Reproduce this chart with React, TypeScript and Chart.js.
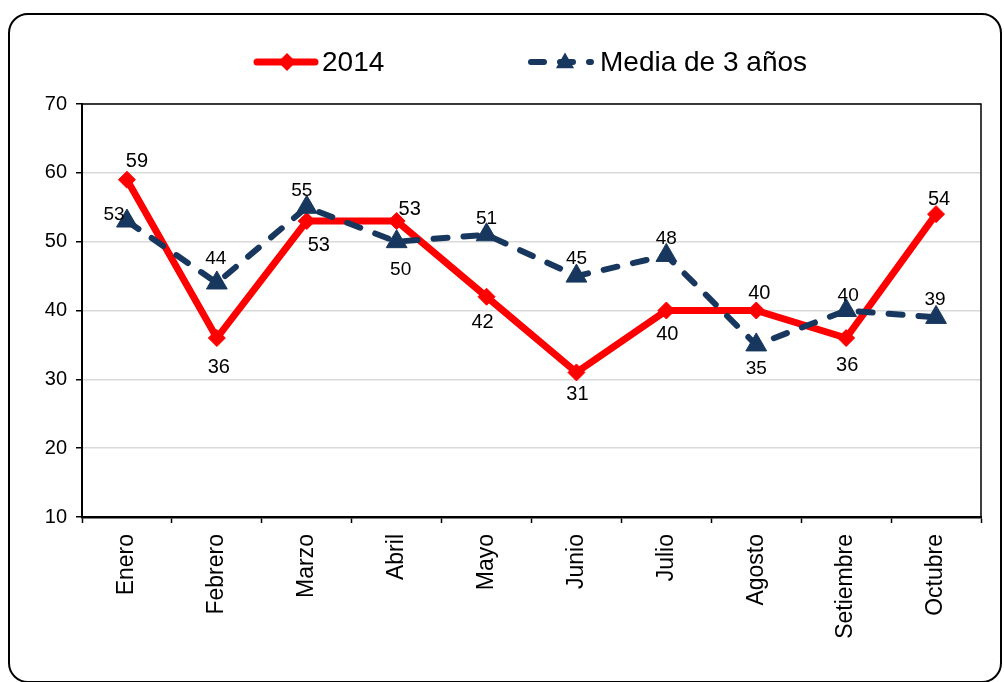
import React, { useEffect, useRef } from 'react';
import { Chart, registerables } from 'chart.js';

Chart.register(...registerables);

const categories = ['Enero', 'Febrero', 'Marzo', 'Abril', 'Mayo', 'Junio', 'Julio', 'Agosto', 'Setiembre', 'Octubre'];
const series2014 = [59, 36, 53, 53, 42, 31, 40, 40, 36, 54];
const seriesMedia = [53, 44, 55, 50, 51, 45, 48, 35, 40, 39];
const yTicks = [10, 20, 30, 40, 50, 60, 70];
const seriesNames = ['2014', 'Media de 3 años'];

const RED = '#FF0000';
const NAVY = '#17375E';
const FONT = '"Liberation Sans", Arial, Helvetica, sans-serif';

// label offsets (style) relative to each point
const labelOffsets2014 = [[10, -18], [2, 29], [12, 24], [13, -12], [-4, 26], [1, 22], [1, 24], [3, -17], [1, 27], [3, -15]];
const labelOffsetsMedia = [[-13, -6], [-1, -24], [-5, -16], [4, 28], [0, -16], [0, -17], [0, -17], [0, 24], [2, -15], [-1, -18]];

const dataLabelPlugin = {
  id: 'dataLabels',
  afterDatasetsDraw(chart: any) {
    const ctx = chart.ctx;
    chart.data.datasets.forEach((ds: any, i: number) => {
      const meta = chart.getDatasetMeta(i);
      const offs = ds.labelOffsets;
      ctx.save();
      ctx.font = `${ds.labelSize}px ${FONT}`;
      ctx.fillStyle = '#000';
      ctx.textAlign = 'center';
      ctx.textBaseline = 'middle';
      meta.data.forEach((el: any, j: number) => {
        ctx.fillText(String(ds.data[j]), el.x + offs[j][0], el.y + offs[j][1]);
      });
      ctx.restore();
    });
  },
};

const framePlugin = {
  id: 'frame',
  beforeDatasetsDraw(chart: any) {
    const { ctx, chartArea } = chart;
    ctx.save();
    ctx.strokeStyle = '#000';
    ctx.lineWidth = 1.5;
    ctx.beginPath();
    ctx.moveTo(chartArea.left, chartArea.top);
    ctx.lineTo(chartArea.right, chartArea.top);
    ctx.lineTo(chartArea.right, chartArea.bottom);
    ctx.stroke();
    ctx.restore();
  },
};

const legendPlugin = {
  id: 'customLegend',
  afterDraw(chart: any) {
    const ctx = chart.ctx;
    const y = 62;
    ctx.save();
    // 2014
    ctx.strokeStyle = RED;
    ctx.lineWidth = 7;
    ctx.lineCap = 'round';
    ctx.beginPath();
    ctx.moveTo(257, y);
    ctx.lineTo(315, y);
    ctx.stroke();
    ctx.fillStyle = RED;
    ctx.beginPath();
    ctx.moveTo(287, y - 9);
    ctx.lineTo(296, y);
    ctx.lineTo(287, y + 9);
    ctx.lineTo(278, y);
    ctx.closePath();
    ctx.fill();
    ctx.fillStyle = '#000';
    ctx.font = `28px ${FONT}`;
    ctx.textAlign = 'left';
    ctx.textBaseline = 'middle';
    ctx.fillText(seriesNames[0], 322, y + 1);
    // Media
    ctx.strokeStyle = NAVY;
    ctx.lineWidth = 6;
    ctx.setLineDash([13, 16]);
    ctx.beginPath();
    ctx.moveTo(531, y);
    ctx.lineTo(591, y);
    ctx.stroke();
    ctx.setLineDash([]);
    ctx.fillStyle = NAVY;
    const cx = 565, cy = 63, r = 10.5;
    ctx.beginPath();
    ctx.moveTo(cx, cy - r);
    ctx.lineTo(cx + r * 0.866, cy + r / 2);
    ctx.lineTo(cx - r * 0.866, cy + r / 2);
    ctx.closePath();
    ctx.fill();
    ctx.fillStyle = '#000';
    ctx.fillText(seriesNames[1], 600, y + 1);
    ctx.restore();
  },
};

export default function App() {
  const ref = useRef<HTMLCanvasElement>(null);
  useEffect(() => {
    if (!ref.current) return;
    const chart = new Chart(ref.current, {
      type: 'line',
      data: {
        labels: categories,
        datasets: [
          {
            label: seriesNames[0],
            data: series2014,
            borderColor: RED,
            backgroundColor: RED,
            borderWidth: 7,
            pointStyle: 'rectRot',
            pointRadius: 8.5,
            pointBorderWidth: 1,
            pointBackgroundColor: RED,
            pointBorderColor: RED,
            tension: 0,
            order: 1,
            labelOffsets: labelOffsets2014,
            labelSize: 20,
          } as any,
          {
            label: seriesNames[1],
            data: seriesMedia,
            borderColor: NAVY,
            backgroundColor: NAVY,
            borderWidth: 6,
            borderDash: [14, 16],
            borderCapStyle: 'round',
            pointStyle: 'triangle',
            pointRadius: 12,
            pointBorderWidth: 1,
            pointBackgroundColor: NAVY,
            pointBorderColor: NAVY,
            tension: 0,
            order: 0,
            labelOffsets: labelOffsetsMedia,
            labelSize: 19,
          } as any,
        ],
      },
      options: {
        animation: false,
        responsive: false,
        maintainAspectRatio: false,
        layout: { padding: { left: 0, right: 23, top: 104, bottom: 0 } },
        plugins: {
          legend: { display: false },
          tooltip: { enabled: false },
        },
        scales: {
          x: {
            type: 'category',
            offset: true,
            grid: {
              offset: true,
              drawOnChartArea: false,
              drawTicks: true,
              tickLength: 6,
              tickColor: '#000',
              tickWidth: 1.5,
            },
            border: { display: true, color: '#000', width: 2.5 },
            ticks: {
              color: '#000',
              font: { family: FONT, size: 23 },
              maxRotation: 90,
              minRotation: 90,
              padding: 11,
              autoSkip: false,
            },
            afterFit(scale: any) {
              scale.height = 165;
            },
          },
          y: {
            min: 10,
            max: 70,
            afterBuildTicks(scale: any) {
              scale.ticks = yTicks.map((v) => ({ value: v }));
            },
            grid: {
              color: '#d9d9d9',
              lineWidth: 1.5,
              tickLength: 6,
              tickColor: '#000',
              tickWidth: 1.5,
            },
            border: { display: true, color: '#000', width: 2 },
            ticks: {
              color: '#000',
              font: { family: FONT, size: 20 },
              padding: 9,
            },
            afterFit(scale: any) {
              scale.width = 82;
            },
          },
        },
      } as any,
      plugins: [framePlugin, dataLabelPlugin, legendPlugin],
    });
    return () => chart.destroy();
  }, []);

  return (
    <div style={{ position: 'fixed', left: 0, top: 0, width: 1004, height: 682, background: '#fff', overflow: 'hidden' }}>
      <div
        style={{
          position: 'absolute',
          left: 8,
          top: 13,
          width: 994,
          height: 670,
          boxSizing: 'border-box',
          border: '2px solid #000',
          borderRadius: 20,
        }}
      />
      <canvas ref={ref} width={1004} height={682} style={{ position: 'absolute', left: 0, top: 0, width: 1004, height: 682 }} />
    </div>
  );
}
